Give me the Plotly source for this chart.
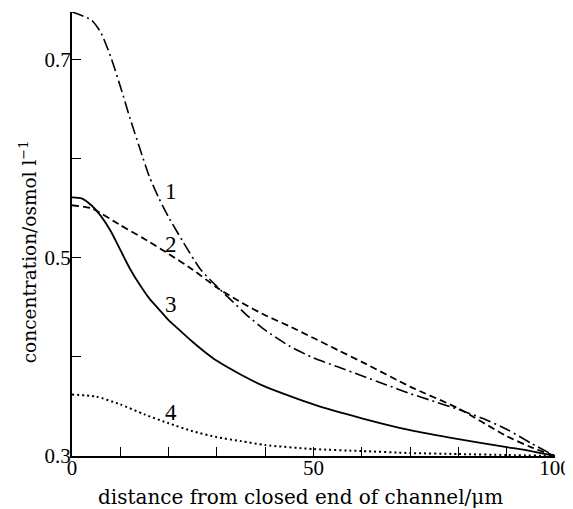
import plotly.graph_objects as go

# ---- data ----
x1 = [0, 4, 6, 8, 10, 12, 14, 16, 18, 20, 23, 26.5, 30, 33, 36, 40, 45, 50, 55, 60, 65, 70,
      75, 80, 85, 90, 95, 100]
y1 = [0.748, 0.740, 0.727, 0.703, 0.673, 0.641, 0.611, 0.582, 0.560, 0.541, 0.516, 0.489,
      0.471, 0.457, 0.443, 0.427, 0.411, 0.399, 0.390, 0.381, 0.372, 0.363, 0.355, 0.347,
      0.338, 0.327, 0.313, 0.300]

x2 = [0, 4, 10, 15, 20, 25, 30, 35, 40, 45, 50, 55, 60, 70, 80, 90, 95, 100]
y2 = [0.553, 0.550, 0.533, 0.519, 0.504, 0.488, 0.470, 0.455, 0.442, 0.431, 0.419, 0.407,
      0.395, 0.370, 0.348, 0.320, 0.309, 0.300]

x3 = [0, 2, 4, 6, 8, 10, 12, 14, 16, 18, 20, 22.5, 25, 27.5, 30, 35, 40, 50, 60, 70, 80,
      90, 95, 100]
y3 = [0.561, 0.560, 0.553, 0.542, 0.527, 0.508, 0.489, 0.473, 0.459, 0.448, 0.437, 0.426,
      0.415, 0.405, 0.396, 0.382, 0.370, 0.352, 0.338, 0.326, 0.317, 0.309, 0.305, 0.300]

x4 = [0, 5, 10, 15, 20, 25, 30, 35, 40, 50, 60, 70, 80, 90, 100]
y4 = [0.362, 0.360, 0.352, 0.342, 0.333, 0.325, 0.319, 0.315, 0.311, 0.307, 0.305, 0.303,
      0.302, 0.301, 0.300]

curve_labels = ["1", "2", "3", "4"]
label_x = [20.4, 20.4, 20.5, 20.4]
label_y = [0.567, 0.513, 0.453, 0.344]

x_tickvals = [0, 10, 20, 30, 40, 50, 60, 70, 80, 90, 100]
x_ticktext = ["0", "", "", "", "", "50", "", "", "", "", "100"]
y_tickvals = [0.3, 0.4, 0.5, 0.6, 0.7]
y_ticktext = ["0.3", "", "0.5", "", "0.7"]

x_title = "distance from closed end of channel/\u03bcm"
y_title = "concentration/osmol l<sup>\u22121</sup>"

TITLE_FONT = "DejaVu Serif"
TICK_FONT = "Liberation Serif"

fig = go.Figure()
series = [
    (x1, y1, "12px,4px,2px,4px", 1.6),
    (x2, y2, "7px,4px", 1.8),
    (x3, y3, "solid", 1.8),
    (x4, y4, "2px,3px", 2.0),
]
for xs, ys, dash, w in series:
    fig.add_trace(go.Scatter(
        x=xs, y=ys, mode="lines",
        line=dict(color="black", width=w, dash=dash, shape="spline", smoothing=0.6),
        showlegend=False, hoverinfo="skip",
    ))

for t, lx, ly in zip(curve_labels, label_x, label_y):
    fig.add_annotation(x=lx, y=ly, text=t, showarrow=False,
                       font=dict(family=TICK_FONT, size=23, color="black"))

fig.add_annotation(xref="paper", yref="paper", x=0.473, y=-0.092, yanchor="middle",
                   text=x_title, showarrow=False,
                   font=dict(family=TITLE_FONT, size=20, color="black"))
fig.add_annotation(xref="paper", yref="paper", x=-0.091, y=0.459, xanchor="center",
                   yanchor="middle", text=y_title, textangle=-90, showarrow=False,
                   font=dict(family=TITLE_FONT, size=18.5, color="black"))

fig.update_xaxes(range=[0, 100], showline=True, linewidth=2, linecolor="black",
                 ticks="inside", ticklen=9, tickwidth=1.2, tickcolor="black",
                 tickvals=x_tickvals, ticktext=x_ticktext, showgrid=False, zeroline=False,
                 automargin=False, ticklabelstandoff=-8,
                 tickfont=dict(family=TICK_FONT, size=21, color="black"))
fig.update_yaxes(range=[0.3, 0.748], showline=True, linewidth=2, linecolor="black",
                 ticks="inside", ticklen=9, tickwidth=1.2, tickcolor="black",
                 tickvals=y_tickvals, ticktext=y_ticktext, showgrid=False, zeroline=False,
                 automargin=False, ticklabelstandoff=-5,
                 tickfont=dict(family=TICK_FONT, size=21, color="black"))

# the page body adds an 8px offset, so margins are shifted to compensate
fig.update_layout(width=573, height=509, margin=dict(l=63.5, r=26, t=4, b=61),
                  plot_bgcolor="white", paper_bgcolor="white")

fig.write_html("out.html")
